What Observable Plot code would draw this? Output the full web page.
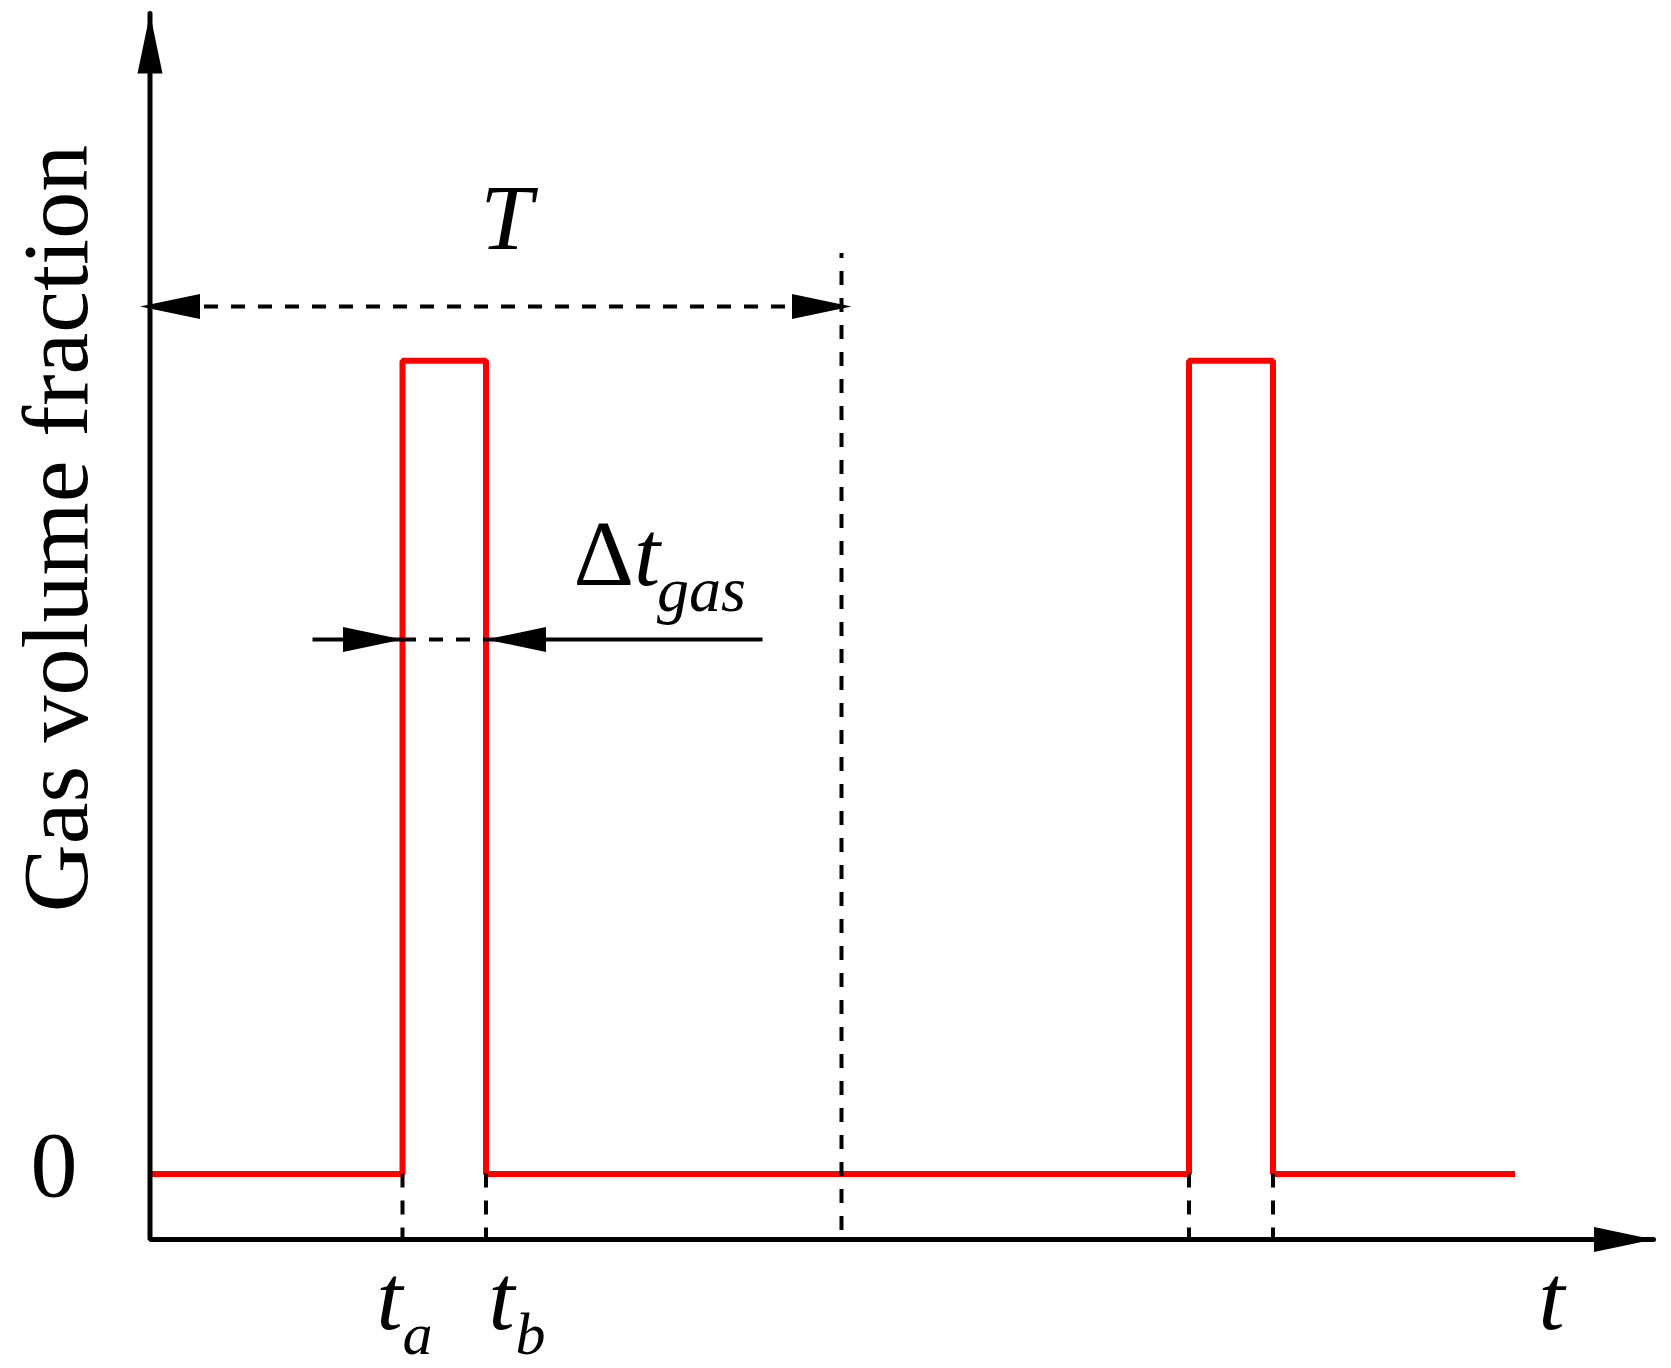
<!DOCTYPE html>
<html>
<head>
<meta charset="utf-8">
<script src="https://cdn.jsdelivr.net/npm/d3@7"></script>
<script src="https://cdn.jsdelivr.net/npm/@observablehq/plot@0.6"></script>
<style>
  html, body { margin: 0; padding: 0; background: #fff; }
  #chart svg { display: block; }
</style>
</head>
<body>
<div id="chart"></div>
<script>
// ---------------- data (schematic units: time on x, gas volume fraction on y) ----------------
const signalTime = [0, 25.25, 25.25, 33.6, 33.6, 103.9, 103.9, 112.3, 112.3, 136.5];
const signalGVF  = [0, 0,     1,     1,    0,    0,     1,     1,     0,     0];
const pulseEdges = [25.25, 33.6, 103.9, 112.3];
const tA = 25.25;
const tB = 33.6;
const periodT = 69.15;
const axisMaxTime = 150.35;
const axisRangeGVF = [-0.0805, 1.4271];
const yTicks = [0];
const yTickLabels = ["0"];
const yAxisLabel = "Gas volume fraction";
const xAxisLabel = "t";
const edgeLabels = ["t", "t"];
const edgeSubscripts = ["a", "b"];
const periodLabel = "T";
const widthLabel = ["Δ", "t", "gas"];

// ---------------- build ----------------
const signal = signalTime.map((t, i) => ({t, gvf: signalGVF[i]}));
const [yMin, yMax] = axisRangeGVF;
const serif = "'Liberation Serif','Times New Roman',Times,serif";
const dash = {stroke: "#000", strokeWidth: 4, strokeDasharray: "14,13"};
const txt = (s, x, y, o = {}) =>
  Plot.text([s], {x: () => x, y: () => y, text: d => d, fontFamily: serif, fill: "#000",
                  textAnchor: "start", lineAnchor: "middle", fontSize: 94, ...o});

const arrowY = {T: 1.0668, dt: 0.6573};

const plot = Plot.plot({
  width: 1671,
  height: 1368,
  marginLeft: 149.5,
  marginRight: 18,
  marginTop: 13,
  marginBottom: 129,
  x: {domain: [0, axisMaxTime], axis: null},
  y: {domain: axisRangeGVF, axis: null},
  style: {fontFamily: serif, background: "#fff", color: "#000", overflow: "visible"},
  marks: [
    // signal
    Plot.line(signal, {x: "t", y: "gvf", stroke: "#ff0000", strokeWidth: 6, strokeLinejoin: "miter", strokeLinecap: "butt"}),
    // axes with arrowheads
    Plot.line([{t: 0, v: yMax}, {t: 0, v: yMin}, {t: axisMaxTime, v: yMin}],
      {x: "t", y: "v", stroke: "#000", strokeWidth: 5, strokeLinejoin: "miter", ariaDescription: "axes"}),
    // dashed drop lines from pulse edges
    Plot.ruleX(pulseEdges, {y1: 0, y2: yMin, ...dash}),
    // period boundary
    Plot.ruleX([periodT], {y1: -0.0695, y2: 1.1319, ...dash}),
    // period arrow
    Plot.link([{x1: 0, x2: periodT, y: arrowY.T}], {x1: "x1", x2: "x2", y1: "y", y2: "y", ...dash, ariaDescription: "arrow-both"}),
    // pulse-width dashed segment
    Plot.ruleY([arrowY.dt], {x1: tA, x2: tB, ...dash}),
    // pulse-width arrows
    Plot.link([{x1: tA - 9, x2: tA, y: arrowY.dt}, {x1: tB + 27.65, x2: tB, y: arrowY.dt}],
      {x1: "x1", x2: "x2", y1: "y", y2: "y", stroke: "#000", strokeWidth: 4, ariaDescription: "arrow-end"}),
    // y tick "0"
    Plot.axisY({ticks: yTicks, tickSize: 0, tickPadding: 72.5, fontSize: 94, fontFamily: serif, dy: -8,
      tickFormat: d => yTickLabels[yTicks.indexOf(d)], label: null, fill: "#000"}),
    // y axis title
    txt(yAxisLabel, -9.35, 0.7938, {rotate: -90, textAnchor: "middle"}),
    // x axis title
    txt(xAxisLabel, 138.85, -0.1531, {fontStyle: "italic"}),
    // t_a, t_b
    txt(edgeLabels[0], 22.65, -0.1531, {fontStyle: "italic"}),
    txt(edgeSubscripts[0], 25.25, -0.1971, {fontStyle: "italic", fontSize: 60}),
    txt(edgeLabels[1], 33.85, -0.1531, {fontStyle: "italic"}),
    txt(edgeSubscripts[1], 36.55, -0.1971, {fontStyle: "italic", fontSize: 60}),
    // T
    txt(periodLabel, 35.65, 1.1750, {fontStyle: "italic", textAnchor: "middle"}),
    // Δt_gas  (Δ upright, t italic — split into tspans below)
    txt(widthLabel[0] + widthLabel[1], 42.35, 0.7618, {ariaDescription: "dt-label"}),
    txt(widthLabel[2], 50.7, 0.7181, {fontStyle: "italic", fontSize: 64})
  ]
});

const svg = d3.select(plot);

// Δ upright + t italic within one text element
svg.selectAll('g[aria-description="dt-label"] text').each(function() {
  const t = d3.select(this);
  t.text(null);
  t.append("tspan").text(widthLabel[0]);
  t.append("tspan").attr("font-style", "italic").text(widthLabel[1]);
});

// filled triangular arrowheads
const defs = svg.insert("defs", ":first-child");
function addMarker(id, refX) {
  defs.append("marker")
    .attr("id", id)
    .attr("viewBox", "0 -13 62 26")
    .attr("refX", refX).attr("refY", 0)
    .attr("markerWidth", 62).attr("markerHeight", 26)
    .attr("markerUnits", "userSpaceOnUse")
    .attr("orient", "auto-start-reverse")
    .append("path").attr("d", "M0,-12.5L60,0L0,12.5Z").attr("fill", "#000").attr("stroke", "none");
}
addMarker("head", 60);
addMarker("headOver", 50);
svg.selectAll('g[aria-description="axes"] path').attr("marker-start", "url(#head)").attr("marker-end", "url(#head)");
svg.selectAll('g[aria-description="arrow-both"] path').attr("marker-start", "url(#headOver)").attr("marker-end", "url(#headOver)");
svg.selectAll('g[aria-description="arrow-end"] path').attr("marker-end", "url(#head)");

document.getElementById("chart").appendChild(plot);
</script>
</body>
</html>
